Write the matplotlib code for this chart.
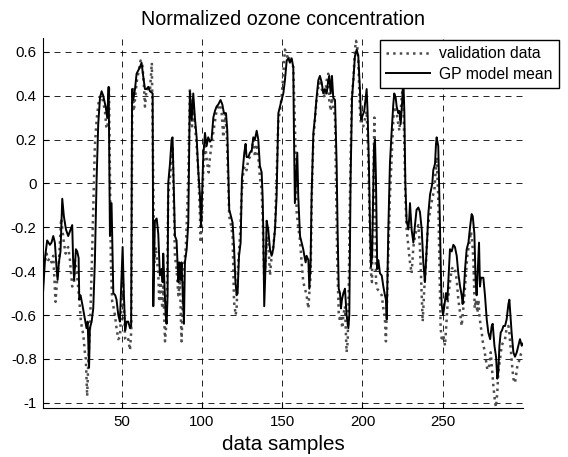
import matplotlib
matplotlib.use("Agg")
import matplotlib.pyplot as plt

plt.rcParams['font.family'] = ['Liberation Sans', 'DejaVu Sans']
plt.rcParams['axes.unicode_minus'] = False

# values, vertex by vertex (sample index, normalized ozone)
val_x = [
    1.0, 2.2, 3.2, 4.3, 5.3, 6.3, 7.4, 8.8, 9.9, 10.9,
    12.3, 14.0, 15.1, 15.7, 16.7, 17.8, 19.2, 20.3, 20.9, 21.9,
    23.6, 24.6, 26.1, 27.1, 27.7, 28.5, 29.2, 30.2, 31.3, 32.3,
    33.3, 34.4, 36.0, 37.5, 38.5, 39.6, 40.4, 41.2, 42.1, 43.3,
    44.1, 44.8, 45.8, 46.8, 47.9, 48.9, 50.0, 50.6, 51.4, 52.2,
    53.1, 54.1, 55.2, 56.0, 56.6, 57.1, 57.6, 59.3, 61.8, 62.8,
    63.9, 64.5, 65.5, 66.6, 67.6, 68.8, 70.3, 71.3, 72.8, 73.4,
    74.3, 75.3, 75.9, 77.0, 78.0, 79.0, 80.5, 81.7, 83.2, 84.2,
    85.3, 86.3, 87.3, 88.8, 90.0, 91.5, 92.5, 93.8, 94.6, 95.6,
    96.7, 97.7, 98.8, 99.2, 100.2, 100.8, 102.1, 103.3, 104.2, 105.0,
    106.6, 109.1, 110.2, 111.2, 112.3, 113.3, 114.3, 115.4, 117.0, 118.1,
    119.1, 120.0, 121.0, 121.6, 122.6, 123.7, 124.7, 125.8, 126.8, 127.8,
    128.9, 129.9, 131.0, 132.0, 133.0, 134.1, 135.1, 136.1, 137.2, 137.8,
    138.8, 139.9, 140.7, 141.3, 142.4, 143.4, 144.4, 145.5, 146.5, 147.6,
    148.6, 149.6, 150.7, 151.7, 152.8, 153.8, 154.8, 155.9, 156.9, 158.0,
    159.0, 160.0, 161.1, 162.1, 163.1, 164.2, 165.2, 166.3, 166.9, 167.7,
    168.5, 169.4, 170.4, 171.4, 172.5, 173.5, 174.6, 175.6, 176.6, 177.7,
    178.7, 179.3, 180.2, 181.0, 181.8, 182.9, 184.3, 185.2, 186.0, 186.6,
    187.4, 188.1, 189.1, 190.1, 190.8, 191.4, 192.2, 193.3, 194.3, 195.3,
    196.0, 196.8, 197.4, 198.4, 199.1, 200.5, 202.6, 203.6, 204.3, 205.1,
    205.9, 206.6, 207.4, 208.4, 209.2, 212.0, 213.0, 214.0, 214.6, 216.3,
    217.1, 218.2, 219.2, 219.8, 221.3, 222.3, 223.0, 224.0, 224.8, 225.4,
    226.1, 226.7, 227.5, 228.6, 229.6, 230.6, 231.7, 232.7, 233.7, 234.8,
    235.8, 236.9, 237.5, 238.5, 239.6, 240.6, 241.6, 242.7, 243.7, 244.8,
    245.6, 246.2, 247.2, 247.9, 248.7, 249.5, 250.4, 251.4, 252.4, 253.2,
    254.5, 255.6, 256.6, 257.6, 258.7, 259.7, 260.8, 261.8, 263.3, 264.5,
    265.3, 266.6, 267.6, 268.4, 269.1, 269.9, 270.7, 271.6, 272.2, 272.8,
    273.6, 274.3, 274.9, 275.7, 276.8, 277.8, 279.0, 279.9, 280.5, 281.5,
    282.6, 283.2, 284.0, 284.6, 285.7, 286.7, 287.8, 288.8, 289.8, 290.9,
    291.5, 292.3, 293.2, 294.0, 295.0, 296.5, 297.5, 298.6, 300.0,
]
val_y = [
    -0.38, -0.36, -0.32, -0.35, -0.34, -0.36, -0.33, -0.54, -0.43, -0.36,
    -0.16, -0.27, -0.32, -0.30, -0.29, -0.35, -0.47, -0.45, -0.35, -0.39,
    -0.53, -0.63, -0.69, -0.77, -0.80, -0.97, -0.82, -0.67, -0.40, -0.12,
    0.17, 0.29, 0.39, 0.40, 0.37, 0.33, 0.26, 0.25, 0.44, -0.36,
    -0.54, -0.56, -0.60, -0.66, -0.71, -0.70, -0.54, -0.42, -0.56, -0.71,
    -0.72, -0.71, -0.76, -0.67, 0.40, 0.43, 0.33, 0.46, 0.56, 0.55,
    0.44, 0.35, 0.43, 0.43, 0.42, 0.55, -0.36, -0.29, -0.41, -0.54,
    -0.45, -0.57, -0.47, -0.72, -0.62, -0.06, 0.06, 0.17, -0.33, -0.39,
    -0.51, -0.45, -0.72, -0.38, -0.29, 0.02, 0.43, 0.26, 0.35, 0.27,
    0.17, 0.06, -0.15, -0.27, -0.12, 0.06, 0.17, 0.09, 0.05, 0.12,
    0.21, 0.33, 0.35, 0.36, 0.32, 0.21, 0.32, 0.24, -0.15, -0.19,
    -0.24, -0.54, -0.60, -0.57, -0.36, -0.24, -0.06, 0.06, 0.08, 0.06,
    0.11, 0.12, 0.15, 0.20, 0.12, 0.18, 0.12, 0.03, -0.03, -0.15,
    -0.44, -0.33, -0.24, -0.27, -0.42, -0.33, -0.29, -0.21, 0.03, 0.29,
    0.33, 0.39, 0.50, 0.61, 0.59, 0.56, 0.58, 0.55, 0.53, 0.24,
    -0.13, -0.20, -0.26, -0.36, -0.45, -0.48, -0.51, -0.57, -0.50, -0.42,
    -0.03, 0.20, 0.29, 0.38, 0.44, 0.46, 0.43, 0.41, 0.39, 0.47,
    0.50, 0.38, 0.33, 0.39, 0.35, 0.30, -0.36, -0.59, -0.63, -0.60,
    -0.66, -0.60, -0.56, -0.77, -0.72, -0.51, -0.06, 0.39, 0.47, 0.61,
    0.65, 0.62, 0.56, 0.33, 0.27, 0.26, 0.33, 0.12, -0.12, -0.39,
    -0.45, -0.10, 0.30, -0.45, -0.48, -0.51, -0.57, -0.62, -0.72, -0.27,
    -0.06, 0.12, 0.29, 0.35, 0.32, 0.27, 0.24, 0.35, 0.42, 0.39,
    0.17, -0.06, -0.21, -0.29, -0.36, -0.41, -0.29, -0.24, -0.21, -0.19,
    -0.29, -0.51, -0.63, -0.48, -0.36, -0.21, -0.15, -0.10, -0.06, -0.03,
    0.06, 0.12, -0.06, -0.36, -0.66, -0.72, -0.69, -0.74, -0.62, -0.53,
    -0.45, -0.39, -0.38, -0.39, -0.44, -0.53, -0.59, -0.65, -0.53, -0.41,
    -0.33, -0.27, -0.22, -0.27, -0.35, -0.57, -0.53, -0.59, -0.53, -0.60,
    -0.65, -0.68, -0.72, -0.75, -0.80, -0.85, -0.83, -0.77, -0.83, -0.92,
    -1.00, -1.02, -0.95, -0.86, -0.80, -0.74, -0.72, -0.71, -0.66, -0.65,
    -0.68, -0.75, -0.83, -0.89, -0.91, -0.83, -0.81, -0.78, -0.76,
]

gp_x = [
    1.0, 2.4, 3.6, 5.3, 6.3, 7.4, 8.4, 9.4, 10.1, 10.9,
    11.9, 13.0, 14.0, 15.3, 16.7, 18.2, 19.2, 19.8, 20.4, 21.5,
    22.3, 23.2, 23.6, 24.4, 25.7, 27.1, 28.1, 28.8, 29.7, 30.2,
    31.3, 32.3, 33.3, 34.4, 35.4, 36.5, 37.5, 38.5, 40.0, 41.0,
    41.9, 42.7, 43.7, 44.8, 46.0, 46.8, 47.9, 48.9, 49.7, 50.6,
    51.4, 52.2, 53.1, 54.1, 55.2, 55.9, 56.5, 57.2, 58.3, 59.3,
    61.4, 62.4, 63.4, 64.5, 65.5, 66.6, 67.6, 69.3, 69.7, 70.7,
    71.8, 72.8, 73.8, 74.9, 75.5, 75.9, 77.4, 78.0, 78.6, 79.0,
    80.1, 81.1, 81.7, 83.2, 84.2, 85.3, 85.9, 86.7, 87.3, 88.8,
    89.4, 90.5, 91.5, 92.5, 93.6, 94.6, 95.6, 96.7, 97.7, 98.8,
    99.4, 100.2, 100.8, 101.9, 102.9, 103.9, 105.0, 106.0, 107.1, 108.1,
    109.1, 110.2, 111.6, 112.7, 113.7, 115.0, 115.8, 117.0, 118.1, 119.1,
    120.0, 120.8, 121.6, 122.2, 123.1, 124.1, 124.9, 125.8, 126.4, 127.2,
    127.8, 128.9, 129.9, 131.0, 132.0, 133.0, 134.1, 135.1, 136.1, 137.2,
    137.8, 138.2, 138.8, 139.7, 140.3, 141.3, 142.4, 143.4, 144.4, 145.5,
    146.5, 147.6, 148.6, 149.6, 150.7, 151.7, 152.8, 153.8, 154.8, 155.9,
    156.9, 157.3, 157.9, 159.4, 160.0, 161.1, 162.1, 163.1, 163.8, 164.6,
    165.2, 166.3, 166.9, 167.7, 168.3, 169.4, 170.4, 171.4, 172.5, 173.5,
    174.6, 175.6, 176.6, 177.7, 178.7, 179.3, 180.2, 181.0, 181.8, 182.9,
    183.9, 184.5, 185.2, 186.0, 186.6, 187.2, 188.1, 189.1, 190.1, 191.2,
    191.8, 192.6, 193.5, 194.3, 195.3, 196.4, 197.4, 198.4, 199.1, 201.1,
    202.6, 203.2, 204.0, 204.7, 205.3, 206.0, 207.2, 207.8, 208.4, 209.2,
    209.9, 210.9, 212.0, 213.0, 214.0, 214.6, 215.1, 216.1, 217.1, 218.2,
    219.2, 219.8, 220.7, 221.3, 222.3, 223.0, 223.8, 224.8, 225.4, 226.1,
    226.7, 227.5, 228.6, 229.2, 229.6, 230.6, 231.7, 232.7, 233.7, 234.8,
    235.8, 236.9, 237.9, 238.9, 240.4, 241.0, 242.1, 242.7, 243.5, 244.1,
    245.2, 245.8, 246.2, 247.2, 247.9, 248.7, 249.3, 250.2, 250.8, 252.0,
    252.9, 254.5, 255.6, 256.6, 257.6, 258.7, 259.7, 260.8, 261.8, 262.4,
    263.3, 263.9, 264.9, 266.0, 267.0, 268.0, 268.7, 269.7, 270.5, 271.1,
    272.6, 273.2, 273.8, 275.3, 276.3, 277.4, 278.4, 279.5, 280.5, 281.1,
    282.2, 283.2, 284.0, 284.6, 285.3, 286.1, 286.9, 287.8, 288.8, 289.8,
    290.9, 291.5, 292.9, 294.0, 295.0, 296.1, 298.1, 299.2, 300.0,
]
gp_y = [
    -0.50, -0.33, -0.26, -0.28, -0.27, -0.24, -0.27, -0.38, -0.44, -0.36,
    -0.31, -0.07, -0.15, -0.21, -0.24, -0.21, -0.19, -0.36, -0.44, -0.30,
    -0.31, -0.34, -0.53, -0.51, -0.56, -0.62, -0.66, -0.63, -0.84, -0.66,
    -0.63, -0.57, -0.36, 0.02, 0.27, 0.39, 0.42, 0.40, 0.35, 0.30,
    0.44, -0.24, -0.09, -0.50, -0.51, -0.53, -0.60, -0.63, -0.47, -0.29,
    -0.51, -0.67, -0.63, -0.63, -0.66, -0.65, 0.43, 0.38, 0.43, 0.50,
    0.53, 0.55, 0.49, 0.43, 0.43, 0.44, 0.42, 0.41, -0.56, -0.17,
    -0.16, -0.23, -0.42, -0.39, -0.45, -0.32, -0.60, -0.64, -0.51, 0.00,
    0.09, 0.20, 0.21, -0.24, -0.26, -0.45, -0.36, -0.44, -0.36, -0.64,
    -0.36, -0.30, -0.18, 0.42, 0.29, 0.41, 0.30, 0.21, 0.06, -0.06,
    -0.20, -0.03, 0.12, 0.23, 0.17, 0.21, 0.19, 0.20, 0.30, 0.33,
    0.35, 0.36, 0.38, 0.36, 0.32, 0.32, 0.24, -0.12, -0.15, -0.18,
    -0.29, -0.44, -0.51, -0.50, -0.33, -0.27, 0.02, 0.09, 0.14, 0.18,
    0.12, 0.12, 0.14, 0.15, 0.21, 0.20, 0.24, 0.20, 0.08, 0.05,
    -0.06, -0.21, -0.56, -0.36, -0.17, -0.21, -0.30, -0.33, -0.30, -0.21,
    -0.06, 0.32, 0.35, 0.38, 0.41, 0.47, 0.56, 0.57, 0.55, 0.57,
    0.53, 0.24, -0.09, 0.14, -0.06, -0.24, -0.27, -0.30, -0.33, -0.36,
    -0.33, -0.35, -0.48, -0.36, -0.06, 0.23, 0.30, 0.39, 0.47, 0.49,
    0.46, 0.41, 0.43, 0.41, 0.47, 0.49, 0.41, 0.49, 0.39, 0.38,
    0.09, -0.21, -0.48, -0.50, -0.57, -0.53, -0.50, -0.48, -0.60, -0.66,
    -0.60, 0.02, 0.39, 0.47, 0.58, 0.61, 0.58, 0.43, 0.29, 0.33,
    0.43, 0.32, 0.09, -0.20, -0.38, -0.33, 0.17, 0.20, 0.02, -0.39,
    -0.35, -0.41, -0.42, -0.47, -0.51, -0.53, -0.62, -0.21, 0.09, 0.24,
    0.36, 0.41, 0.39, 0.35, 0.32, 0.33, 0.27, 0.38, 0.49, 0.32,
    0.00, -0.17, -0.21, -0.15, -0.09, -0.21, -0.27, -0.19, -0.12, -0.11,
    -0.13, -0.21, -0.36, -0.45, -0.24, -0.14, -0.05, -0.03, 0.00, 0.06,
    0.09, 0.18, 0.21, 0.17, -0.06, -0.36, -0.55, -0.60, -0.57, -0.50,
    -0.53, -0.30, -0.31, -0.28, -0.29, -0.33, -0.41, -0.47, -0.51, -0.55,
    -0.47, -0.39, -0.30, -0.27, -0.20, -0.14, -0.15, -0.23, -0.45, -0.51,
    -0.27, -0.47, -0.43, -0.43, -0.51, -0.62, -0.68, -0.71, -0.65, -0.64,
    -0.74, -0.79, -0.89, -0.86, -0.74, -0.68, -0.67, -0.65, -0.65, -0.62,
    -0.55, -0.53, -0.68, -0.77, -0.79, -0.77, -0.71, -0.74, -0.73,
]

x_ticks = [50, 100, 150, 200, 250]
y_ticks = [-1, -0.8, -0.6, -0.4, -0.2, 0, 0.2, 0.4, 0.6]
y_tick_labels = ['-1', '-0.8', '-0.6', '-0.4', '-0.2', '0', '0.2', '0.4', '0.6']

fig = plt.figure(figsize=(5.68, 4.57), dpi=100)
ax = fig.add_axes([0.0757, 0.1066, 0.8451, 0.8109])

ax.plot(val_x, val_y, color='0.3', ls=':', lw=1.8, label='validation data')
ax.plot(gp_x, gp_y, color='black', lw=1.4, label='GP model mean')

ax.set_xlim(1, 300)
ax.set_ylim(-1.025, 0.664)
ax.set_xticks(x_ticks)
ax.set_yticks(y_ticks)
ax.set_yticklabels(y_tick_labels)
ax.set_axisbelow(True)
ax.grid(True, color='black', ls=(0, (7.2, 6)), lw=0.6)

for side in ('top', 'right'):
    ax.spines[side].set_visible(False)
ax.spines['left'].set_linewidth(0.8)
ax.spines['bottom'].set_linewidth(0.8)
ax.tick_params(direction='in', length=4, width=0.8, labelsize=10.8, pad=4.5)

ax.set_title('Normalized ozone concentration', fontsize=14.2, pad=9)
ax.set_xlabel('data samples', fontsize=14.9, labelpad=5)

ax.legend(loc='upper right', bbox_to_anchor=(559 / 568, 1 - 40 / 457),
          bbox_transform=fig.transFigure, borderaxespad=0, fontsize=11.3,
          fancybox=False, framealpha=1, edgecolor='black', handlelength=2.8,
          handletextpad=0.6, borderpad=0.4, labelspacing=0.35)

fig.savefig('out.png', dpi=100)
